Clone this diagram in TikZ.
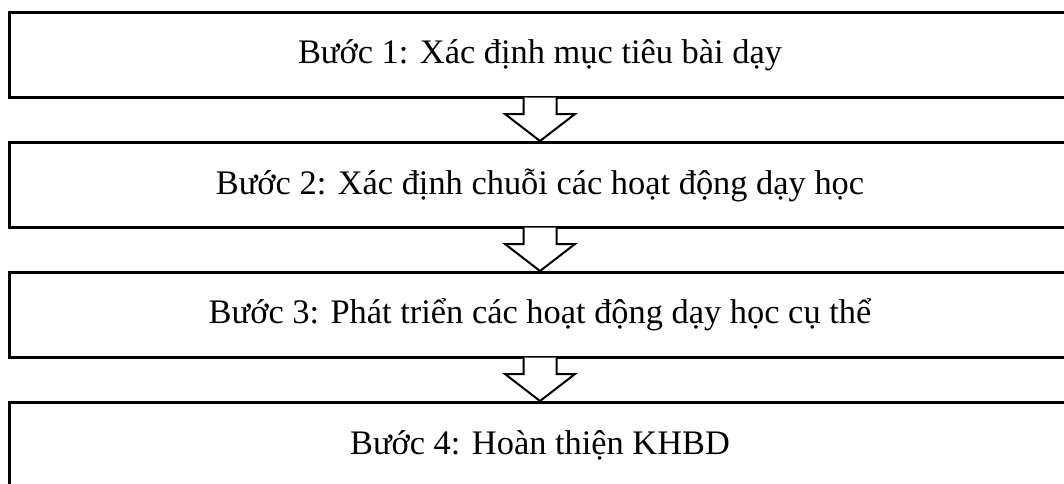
\documentclass[tikz,border=0pt]{standalone}
\usepackage{fontspec}
\setmainfont{Liberation Serif}
\usetikzlibrary{calc}
\begin{document}
\begin{tikzpicture}[x=1pt,y=-1pt,
  stepbox/.style={draw=black,line width=3pt,minimum width=1062pt,minimum height=85pt,inner sep=0pt,
    font=\fontsize{34.4}{40}\selectfont,text=black},
  downarrow/.style={draw=black,fill=white,line width=2pt,line join=miter}]
\useasboundingbox (0,0) rectangle (1064,483);
\node[stepbox] (b1) at (540,55) {Bước 1: Xác định mục tiêu bài dạy};
\node[stepbox] (b2) at (540,185) {Bước 2: Xác định chuỗi các hoạt động dạy học};
\node[stepbox] (b3) at (540,315) {Bước 3: Phát triển các hoạt động dạy học cụ thể};
\node[stepbox] (b4) at (540,445) {Bước 4: Hoàn thiện KHBD};
\foreach \a/\b in {b1/b2,b2/b3,b3/b4}{
  \filldraw[downarrow] ($(\a.south)+(-16.5,-1.5)$) -- ($(\a.south)+(-16.5,15)$) -- ($(\a.south)+(-35,15)$)
    -- (\b.north) -- ($(\a.south)+(35,15)$) -- ($(\a.south)+(16.5,15)$) -- ($(\a.south)+(16.5,-1.5)$);
}
\end{tikzpicture}
\end{document}
